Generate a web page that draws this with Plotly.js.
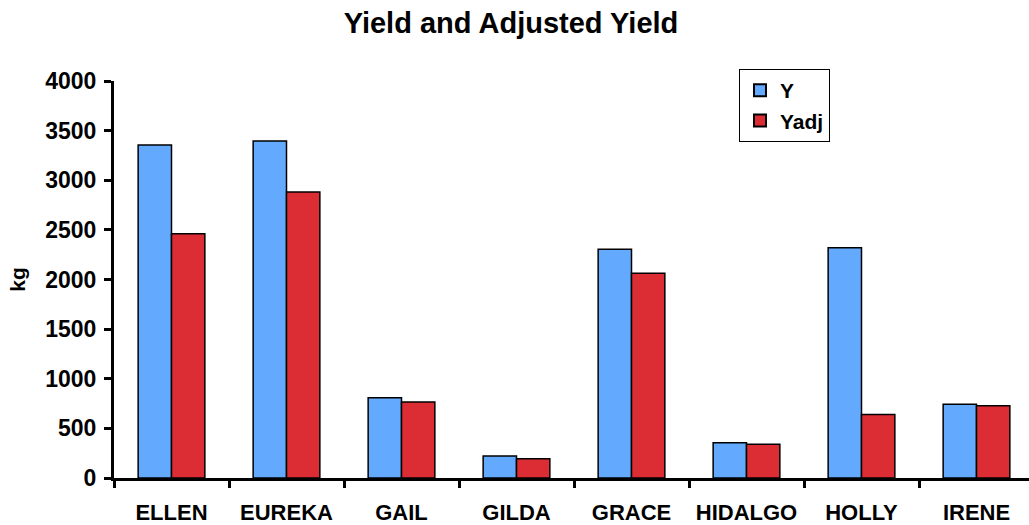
<!DOCTYPE html>
<html>
<head>
<meta charset="utf-8">
<script src="https://cdn.plot.ly/plotly-3.0.1.min.js"></script>
<style>
  html, body { margin: 0; padding: 0; overflow: hidden; background: #fff; }
  #chart { width: 1040px; height: 525px; }
</style>
</head>
<body>
<div id="chart"></div>
<script>
const categories = ["ELLEN", "EUREKA", "GAIL", "GILDA", "GRACE", "HIDALGO", "HOLLY", "IRENE"];
const yValues    = [3355, 3395, 809, 222, 2304, 356, 2321, 742];
const yadjValues = [2461, 2882, 766, 194, 2062, 339, 641, 729];
const yTicks = [0, 500, 1000, 1500, 2000, 2500, 3000, 3500, 4000];

const FONT = "Liberation Sans, Arial, Helvetica, sans-serif";

const traces = [
  {
    type: "bar", name: "Y", x: categories, y: yValues,
    marker: { color: "#63AAFF", line: { color: "#000", width: 1.5 } }
  },
  {
    type: "bar", name: "Yadj", x: categories, y: yadjValues,
    marker: { color: "#DD2D34", line: { color: "#000", width: 1.5 } }
  }
];

const layout = {
  width: 1040, height: 525,
  margin: { l: 114, r: 6, t: 81, b: 47 },
  paper_bgcolor: "#fff", plot_bgcolor: "#fff",
  font: { family: FONT, color: "#000", weight: "bold" },
  title: {
    text: "Yield and Adjusted Yield",
    font: { family: FONT, size: 29, color: "#000", weight: "bold" },
    xref: "container", yref: "container",
    x: 511 / 1040, xanchor: "center",
    y: 1 - 23 / 525, yanchor: "middle"
  },
  barmode: "group", bargap: 0.42, bargroupgap: 0,
  showlegend: true,
  legend: {
    x: (739 - 114) / 920, xanchor: "left",
    y: 1 + 12 / 397, yanchor: "top",
    bordercolor: "#000", borderwidth: 1, bgcolor: "#fff",
    font: { family: FONT, size: 21, color: "#000", weight: "bold" },
    itemsizing: "constant", itemwidth: 30
  },
  xaxis: {
    type: "category",
    showline: true, linecolor: "#000", linewidth: 3,
    ticks: "outside", tickson: "boundaries", ticklen: 7, tickwidth: 3, tickcolor: "#000",
    ticklabelstandoff: 13,
    tickfont: { family: FONT, size: 22, color: "#000", weight: "bold" },
    showgrid: false, zeroline: false, fixedrange: true
  },
  yaxis: {
    range: [0, 4000], tickvals: yTicks, ticktext: yTicks.map(String),
    showline: true, linecolor: "#000", linewidth: 3,
    ticks: "outside", ticklen: 7, tickwidth: 3, tickcolor: "#000",
    ticklabelstandoff: 3,
    tickfont: { family: FONT, size: 23, color: "#000", weight: "bold" },
    showgrid: false, zeroline: false, fixedrange: true,
    title: { text: "kg", standoff: 14, font: { family: FONT, size: 21, color: "#000", weight: "bold" } }
  }
};

Plotly.newPlot("chart", traces, layout, { displayModeBar: false, staticPlot: true });
</script>
</body>
</html>
